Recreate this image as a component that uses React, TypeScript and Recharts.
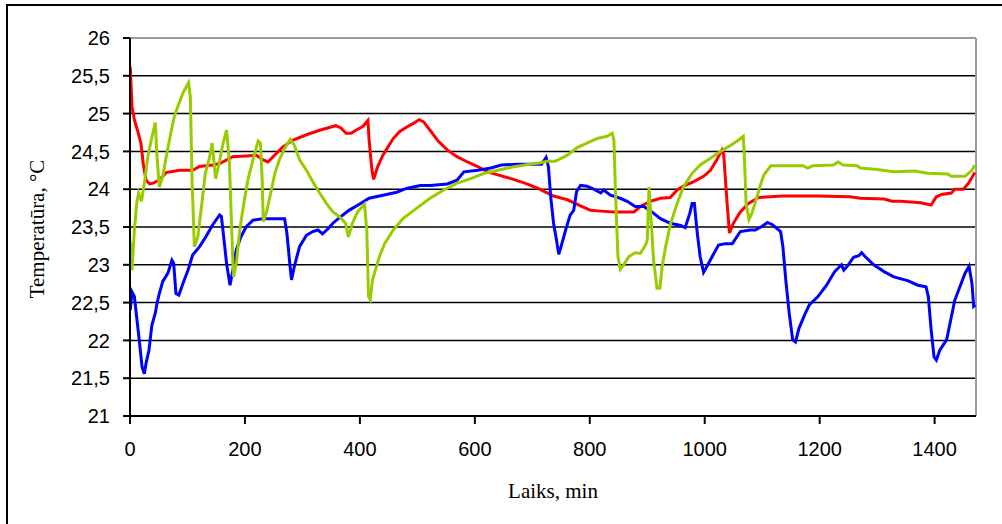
import { LineChart, Line, XAxis, YAxis, CartesianGrid, ReferenceLine, Label } from 'recharts';

// [time, min ; temperature, °C]
const redSeries: [number, number][] = [
    [0.5, 25.62], [3.5, 25.09], [7.6, 24.92], [13, 24.78], [19, 24.61], [23, 24.34], [28, 24.12], [34, 24.07],
    [40, 24.08], [51, 24.12], [63, 24.22], [86, 24.25], [109, 24.25], [121, 24.3], [144, 24.32], [156, 24.34],
    [179, 24.43], [202, 24.44], [220, 24.45], [231, 24.39], [240, 24.36], [249, 24.43], [266, 24.56], [284, 24.65],
    [307, 24.72], [330, 24.78], [353, 24.83], [358, 24.84], [367, 24.81], [376, 24.74], [385, 24.74], [393, 24.78],
    [405, 24.83], [414, 24.91], [416, 24.65], [421, 24.25], [424, 24.13], [431, 24.3], [440, 24.45], [449, 24.56],
    [458, 24.67], [469, 24.76], [481, 24.82], [493, 24.87], [503, 24.92], [511, 24.89], [522, 24.78], [537, 24.63],
    [552, 24.52], [569, 24.43], [587, 24.36], [605, 24.3], [622, 24.23], [640, 24.19], [663, 24.14], [687, 24.08],
    [710, 24.01], [737, 23.91], [761, 23.86], [784, 23.78], [801, 23.72], [819, 23.71], [842, 23.7], [877, 23.7],
    [888, 23.77], [905, 23.84], [923, 23.88], [940, 23.89], [952, 23.99], [963, 24.04], [981, 24.1], [998, 24.17],
    [1010, 24.25], [1021, 24.39], [1030, 24.52], [1033, 24.46], [1039, 23.81], [1043, 23.42], [1050, 23.55],
    [1062, 23.7], [1076, 23.81], [1094, 23.89], [1135, 23.91], [1194, 23.91], [1253, 23.9], [1271, 23.88],
    [1312, 23.87], [1326, 23.84], [1341, 23.84], [1376, 23.82], [1394, 23.79], [1403, 23.9], [1412, 23.93],
    [1429, 23.95], [1435, 24.0], [1450, 24.0], [1459, 24.08], [1470, 24.22],
];

const greenSeries: [number, number][] = [
    [0.5, 23.31], [3.5, 22.93], [7.6, 23.46], [11.6, 23.81], [15, 23.95], [20, 23.84], [25, 24.08], [31, 24.43],
    [37, 24.65], [44, 24.88], [47, 24.43], [51, 24.03], [57, 24.17], [63, 24.43], [71, 24.74], [77, 24.96],
    [83, 25.09], [92, 25.27], [102, 25.41], [105, 25.22], [108, 24.12], [112, 23.24], [118, 23.37], [125, 23.81],
    [131, 24.21], [138, 24.41], [143, 24.61], [149, 24.14], [155, 24.34], [162, 24.61], [168, 24.78], [173, 24.34],
    [177, 23.46], [180, 22.84], [185, 23.02], [191, 23.46], [198, 23.81], [205, 24.12], [214, 24.39], [223, 24.64],
    [227, 24.61], [230, 24.12], [232, 23.57], [237, 23.68], [246, 23.99], [252, 24.21], [260, 24.39], [269, 24.54],
    [279, 24.66], [286, 24.58], [295, 24.39], [307, 24.25], [318, 24.1], [330, 23.95], [342, 23.81], [353, 23.7],
    [364, 23.64], [375, 23.55], [380, 23.37], [387, 23.55], [396, 23.7], [408, 23.8], [412, 23.46], [415, 22.58],
    [418, 22.54], [422, 22.8], [434, 23.11], [443, 23.28], [458, 23.46], [475, 23.61], [499, 23.75], [522, 23.88],
    [546, 23.99], [569, 24.08], [593, 24.14], [616, 24.21], [640, 24.25], [663, 24.29], [687, 24.32], [714, 24.35],
    [726, 24.37], [740, 24.37], [761, 24.45], [778, 24.55], [795, 24.61], [813, 24.67], [830, 24.7], [839, 24.74],
    [842, 24.65], [845, 23.9], [849, 23.11], [853, 22.94], [859, 23.0], [868, 23.11], [879, 23.16], [888, 23.15],
    [897, 23.26], [900, 23.33], [903, 24.03], [906, 23.68], [911, 23.06], [917, 22.69], [922, 22.69], [926, 22.98],
    [932, 23.24], [940, 23.53], [952, 23.81], [963, 24.03], [978, 24.21], [992, 24.32], [1010, 24.41], [1027, 24.5],
    [1045, 24.58], [1059, 24.65], [1067, 24.7], [1069, 24.43], [1072, 23.81], [1077, 23.6], [1082, 23.68],
    [1091, 23.9], [1097, 24.06], [1103, 24.19], [1115, 24.31], [1135, 24.31], [1171, 24.31], [1179, 24.28],
    [1188, 24.31], [1224, 24.32], [1232, 24.36], [1241, 24.32], [1265, 24.31], [1271, 24.28], [1300, 24.26],
    [1329, 24.23], [1365, 24.24], [1388, 24.21], [1423, 24.2], [1429, 24.17], [1453, 24.17], [1465, 24.25],
    [1470, 24.32],
];

const blueSeries: [number, number][] = [
    [0.5, 22.4], [3.5, 22.64], [7.6, 22.58], [11.6, 22.31], [16, 22.01], [21, 21.65], [25, 21.56], [28, 21.7],
    [33, 21.87], [38, 22.2], [44, 22.36], [47, 22.49], [51, 22.62], [57, 22.78], [66, 22.89], [73, 23.06],
    [76, 23.02], [80, 22.62], [85, 22.6], [92, 22.75], [101, 22.93], [109, 23.13], [121, 23.24], [132, 23.37],
    [144, 23.53], [156, 23.66], [159, 23.64], [163, 23.37], [168, 23.02], [174, 22.73], [179, 22.93], [185, 23.2],
    [193, 23.37], [202, 23.5], [214, 23.59], [231, 23.61], [249, 23.61], [269, 23.61], [273, 23.42], [278, 23.02],
    [281, 22.8], [286, 22.98], [295, 23.24], [307, 23.39], [318, 23.44], [327, 23.46], [335, 23.41], [345, 23.48],
    [353, 23.55], [364, 23.62], [381, 23.72], [399, 23.8], [416, 23.88], [440, 23.92], [464, 23.96], [481, 24.01],
    [505, 24.05], [522, 24.05], [552, 24.07], [569, 24.12], [581, 24.23], [605, 24.25], [628, 24.28], [646, 24.32],
    [675, 24.33], [716, 24.33], [724, 24.42], [728, 24.3], [732, 23.9], [737, 23.55], [742, 23.33], [746, 23.14],
    [750, 23.24], [758, 23.46], [766, 23.66], [772, 23.72], [777, 23.97], [784, 24.05], [795, 24.04], [807, 24.0],
    [819, 23.95], [824, 23.99], [836, 23.92], [853, 23.88], [865, 23.84], [879, 23.77], [894, 23.77], [908, 23.7],
    [923, 23.61], [940, 23.55], [958, 23.52], [966, 23.49], [974, 23.68], [978, 23.81], [982, 23.81], [987, 23.42],
    [992, 23.11], [998, 22.9], [1004, 22.98], [1013, 23.11], [1024, 23.26], [1036, 23.28], [1048, 23.28],
    [1062, 23.44], [1079, 23.46], [1088, 23.46], [1100, 23.51], [1109, 23.56], [1118, 23.53], [1132, 23.44],
    [1136, 23.24], [1141, 22.8], [1147, 22.36], [1153, 22.01], [1158, 21.98], [1164, 22.16], [1174, 22.34],
    [1182, 22.47], [1197, 22.58], [1212, 22.73], [1226, 22.91], [1238, 23.0], [1242, 22.93], [1248, 22.98],
    [1259, 23.1], [1268, 23.12], [1273, 23.16], [1279, 23.11], [1294, 23.0], [1312, 22.91], [1329, 22.84],
    [1353, 22.79], [1371, 22.73], [1385, 22.71], [1389, 22.58], [1394, 22.14], [1399, 21.78], [1403, 21.74],
    [1409, 21.87], [1421, 22.01], [1428, 22.27], [1435, 22.53], [1444, 22.71], [1453, 22.89], [1460, 22.98],
    [1465, 22.75], [1468, 22.45], [1471, 22.47],
];

const xTicks = [0, 200, 400, 600, 800, 1000, 1200, 1400];
const yTicks = [21, 21.5, 22, 22.5, 23, 23.5, 24, 24.5, 25, 25.5, 26];
const X_MAX = 1472;

const toPoints = (s: [number, number][]) => s.map(([t, v]) => ({ t, v }));

const tickFont = { fontFamily: 'Arial, "Liberation Sans", sans-serif', fontSize: 20, fill: '#000' };
const titleFont = '"Times New Roman", "Liberation Serif", serif';

export default function App() {
    return (
        <div style={{ position: 'absolute', left: 0, top: 0, width: 1002, height: 524, background: '#fff', overflow: 'hidden' }}>
            <div style={{ position: 'absolute', left: 6, top: 4, width: 1100, height: 600, borderLeft: '2px solid #000', borderTop: '2px solid #000' }} />
            <LineChart width={1002} height={524} margin={{ top: 38, right: 26, left: 0, bottom: 0 }} style={{ position: 'absolute', left: 0, top: 0 }}>
                <CartesianGrid vertical={false} stroke="#000" strokeWidth={1.5} />
                <XAxis
                    type="number"
                    dataKey="t"
                    domain={[0, X_MAX]}
                    ticks={xTicks}
                    allowDataOverflow
                    height={108}
                    stroke="#000"
                    strokeWidth={2}
                    tickSize={8}
                    tickMargin={18}
                    tick={tickFont}
                >
                    <Label
                        content={() => (
                            <text x={553} y={498} textAnchor="middle" fontFamily={titleFont} fontSize={21} fill="#000">
                                Laiks, min
                            </text>
                        )}
                    />
                </XAxis>
                <YAxis
                    type="number"
                    domain={[21, 26]}
                    ticks={yTicks}
                    width={130}
                    stroke="#000"
                    strokeWidth={2}
                    tickSize={7}
                    tickMargin={13}
                    tick={tickFont}
                    tickFormatter={(v: number) => String(v).replace('.', ',')}
                >
                    <Label
                        content={() => (
                            <text x={44} y={229} transform="rotate(-90 44 229)" textAnchor="middle" fontFamily={titleFont} fontSize={21} fill="#000">
                                Temperatūra, °C
                            </text>
                        )}
                    />
                </YAxis>
                <ReferenceLine y={26} stroke="#9a9a9a" strokeWidth={2} />
                <ReferenceLine x={X_MAX} stroke="#9a9a9a" strokeWidth={2} />
                <Line data={toPoints(redSeries)} dataKey="v" type="linear" stroke="#ff0000" strokeWidth={3} dot={false} isAnimationActive={false} />
                <Line data={toPoints(blueSeries)} dataKey="v" type="linear" stroke="#0000ff" strokeWidth={3} dot={false} isAnimationActive={false} />
                <Line data={toPoints(greenSeries)} dataKey="v" type="linear" stroke="#99cc00" strokeWidth={3} dot={false} isAnimationActive={false} />
            </LineChart>
        </div>
    );
}
